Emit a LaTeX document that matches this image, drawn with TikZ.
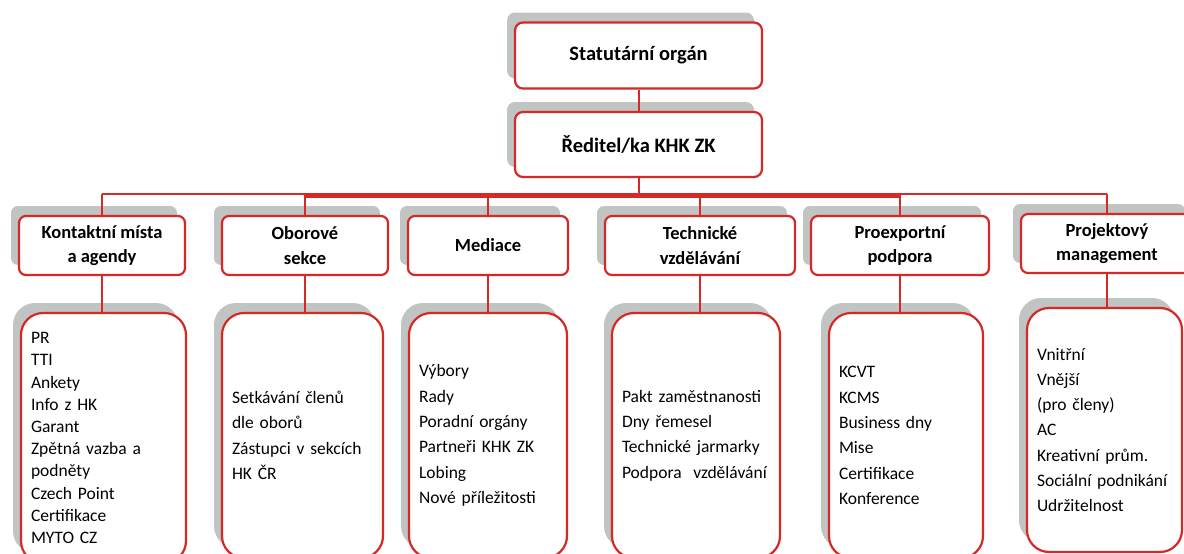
\documentclass[tikz,border=0pt]{standalone}
\usepackage{fontspec}
\setmainfont{Carlito}
\usetikzlibrary{positioning}
\usetikzlibrary{shadows}

\definecolor{khkred}{RGB}{214,40,36}
\definecolor{shadowgray}{RGB}{192,196,194}

\tikzset{
  box/.style={draw=khkred, line width=2.2pt, fill=white, rounded corners=8pt,
    align=center, font=\bfseries\fontsize{18.5}{24.5}\selectfont,
    general shadow={fill=shadowgray, shadow xshift=-8pt, shadow yshift=10pt}},
  topbox/.style={box, minimum width=247pt, minimum height=66pt,
    font=\bfseries\fontsize{20.5}{25}\selectfont},
  unitbox/.style={box, minimum height=59pt, rounded corners=7pt},
  listbox/.style={box, rounded corners=22pt, minimum height=245pt, align=left,
    inner xsep=10pt, font=\fontsize{17.5}{25.3}\selectfont},
  link/.style={draw=khkred, line width=2pt},
  buslink/.style={draw=khkred, line width=5pt}
}

\begin{document}
\begin{tikzpicture}[x=1pt,y=-1pt]
        \useasboundingbox (0,0) rectangle (1184,554);
        \clip (0,0) rectangle (1184,554);

            % Top nodes
            \node[topbox] (stat) at (638.5,55.5) {Statutární orgán};
            \node[topbox, minimum height=65pt] (red) at (638.5,144.5) {Ředitel/ka KHK ZK};

            % Unit nodes
            \node[unitbox, minimum width=166pt] (kont) at (102,245.5) {Kontaktní místa\\a agendy};
            \node[unitbox, minimum width=166pt] (obor) at (305,245.5) {Oborové\\sekce};
            \node[unitbox, minimum width=160pt] (med) at (488,245.5) {Mediace};
            \node[unitbox, minimum width=190pt] (tech) at (700,245.5) {Technické\\vzdělávání};
            \node[unitbox, minimum width=178pt] (proex) at (900,245.5) {Proexportní\\podpora};
            \node[unitbox, minimum width=172pt] (proj) at (1107,243.5) {Projektový\\management};

            % List nodes
            \node[listbox, text width=145pt, minimum height=250pt, font=\fontsize{17.5}{22.2}\selectfont] (kont-list) at (103.5,438)
                {PR\\TTI\\Ankety\\Info z HK\\Garant\\Zpětná vazba a\\podněty\\Czech Point\\Certifikace\\MYTO CZ};
            \node[listbox, text width=141pt] (obor-list) at (302.5,435.5)
                {Setkávání členů\\dle oborů\\Zástupci v sekcích\\HK ČR};
            \node[listbox, text width=138pt] (med-list) at (488,435.5)
                {Výbory\\Rady\\Poradní orgány\\Partneři KHK ZK\\Lobing\\Nové příležitosti};
            \node[listbox, text width=148pt] (tech-list) at (696,435.5)
                {Pakt zaměstnanosti\\Dny řemesel\\Technické jarmarky\\Podpora\ \ vzdělávání};
            \node[listbox, text width=134pt] (proex-list) at (906,435.5)
                {KCVT\\KCMS\\Business dny\\Mise\\Certifikace\\Konference};
            \node[listbox, text width=135pt, minimum height=244pt] (proj-list) at (1104.5,430)
                {Vnitřní\\Vnější\\(pro členy)\\AC\\Kreativní prům.\\Sociální podnikání\\Udržitelnost};

            % Links
            \coordinate (bus) at (638.5,194);
            \draw[link] (stat) -- (red);
            \draw[link] (red.south) -- (bus);
            \draw[link] (kont.north |- bus) -- (proj.north |- bus);
            \draw[buslink] ([yshift=-1.5pt]obor.north |- bus) -- ([yshift=-1.5pt]proex.north |- bus);
            \foreach \u in {kont,obor,med,tech,proex,proj} {
                \draw[link] (\u.north |- bus) -- (\u.north);
                \draw[link] (\u.south) -- (\u.south |- \u-list.north);
            }

        \end{tikzpicture}
\end{document}
